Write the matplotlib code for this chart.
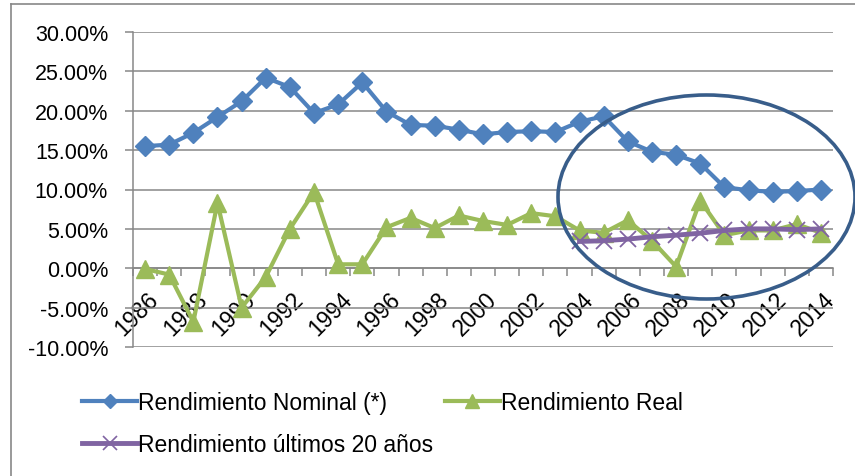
import matplotlib
matplotlib.use('Agg')
import numpy as np
import matplotlib.pyplot as plt
import matplotlib.transforms as mtransforms
from matplotlib.lines import Line2D
from matplotlib.patches import Ellipse
from matplotlib.ticker import FuncFormatter

plt.rcParams['font.family'] = ['Liberation Sans', 'DejaVu Sans']

# data (percent)
years = list(range(1986, 2015))
nominal = [15.5, 15.7, 17.2, 19.2, 21.2, 24.2, 23.0, 19.7, 20.8, 23.6,
           19.9, 18.2, 18.1, 17.6, 17.0, 17.3, 17.4, 17.3, 18.6, 19.3,
           16.1, 14.8, 14.4, 13.3, 10.3, 9.9, 9.7, 9.8, 10.0]
real = [-0.1, -0.8, -6.8, 8.3, -5.0, -1.1, 5.0, 9.7, 0.5, 0.5,
        5.2, 6.4, 5.1, 6.7, 6.0, 5.5, 7.0, 6.6, 4.8, 4.5,
        6.1, 3.5, 0.2, 8.6, 4.2, 4.8, 4.8, 5.6, 4.5]
ultimos_years = list(range(2004, 2015))
ultimos = [3.4, 3.5, 3.7, 4.0, 4.2, 4.45, 4.8, 5.0, 5.0, 4.9, 5.0]

labels = ['Rendimiento Nominal (*)', 'Rendimiento Real', 'Rendimiento últimos 20 años']

BLUE = '#4F81BD'
GREEN = '#9BBB59'
PURPLE = '#8064A2'
GRID = '#878787'
CIRCLE = '#385D8A'

W, H = 855, 477
fig = plt.figure(figsize=(W / 100, H / 100), dpi=100)
ax = fig.add_axes([133 / W, 1 - 348 / H, 700 / W, 315 / H])

x = np.arange(len(years))
xu = [years.index(y) for y in ultimos_years]
ax.plot(x, nominal, color=BLUE, lw=3, marker='D', ms=10, zorder=3)
ax.plot(x, real, color=GREEN, lw=3, marker='^', ms=13.5, zorder=4)
ax.plot(xu, ultimos, color=PURPLE, lw=3.5, marker='x', ms=12, mew=1.3, zorder=5)

ax.set_xlim(-0.5, len(years) - 0.5)
ax.set_ylim(-10, 30)
ax.set_yticks(range(-10, 31, 5))
ax.yaxis.set_major_formatter(FuncFormatter(lambda v, p: '{:.2f}%'.format(v)))
ax.yaxis.grid(True, color=GRID, lw=1.1)
ax.set_axisbelow(True)

for s in ['top', 'right']:
    ax.spines[s].set_visible(False)
ax.spines['left'].set_color(GRID)
ax.spines['left'].set_linewidth(1.1)
ax.spines['bottom'].set_position(('data', 0))
ax.spines['bottom'].set_color(GRID)
ax.spines['bottom'].set_linewidth(1.1)

ax.set_xticks(x[::2])
ax.set_xticklabels([str(y) for y in years[::2]], rotation=45, ha='right', va='top',
                   rotation_mode='anchor')
ax.set_xticks(np.arange(-0.5, len(years), 1), minor=True)
ax.tick_params(axis='x', which='major', length=0, pad=14, labelsize=16.5)
ax.tick_params(axis='x', which='minor', length=6, color=GRID, width=1.1, direction='out')
ax.tick_params(axis='y', length=6, color=GRID, width=1.1, pad=12, labelsize=15.5)
off = mtransforms.ScaledTranslation(2 / 100, 0, fig.dpi_scale_trans)
for t in ax.get_xticklabels():
    t.set_transform(t.get_transform() + off)

# highlight ellipse
fig.add_artist(Ellipse((706.5 / W, 1 - 198 / H), 297 / W, 204 / H, transform=fig.transFigure,
                       fill=False, ec=CIRCLE, lw=2.6, zorder=10))

# chart border
fig.add_artist(Line2D([11 / W, 1], [1 - 5 / H] * 2, transform=fig.transFigure, color=GRID, lw=1.2))
fig.add_artist(Line2D([11 / W] * 2, [0, 1 - 5 / H], transform=fig.transFigure, color=GRID, lw=1.2))

handles = [Line2D([], [], color=BLUE, lw=3, marker='D', ms=7),
           Line2D([], [], color=PURPLE, lw=3.5, marker='x', ms=10, mew=1.2),
           Line2D([], [], color=GREEN, lw=3, marker='^', ms=10)]
fig.legend(handles, [labels[0], labels[2], labels[1]], ncol=2, loc='upper left',
           bbox_to_anchor=(82 / W, 1 - 392 / H), frameon=False, fontsize=16.5,
           handlelength=2.4, handletextpad=0.05, columnspacing=0.5, labelspacing=0.85,
           borderpad=0, borderaxespad=0)

fig.savefig('out.png', dpi=100)
